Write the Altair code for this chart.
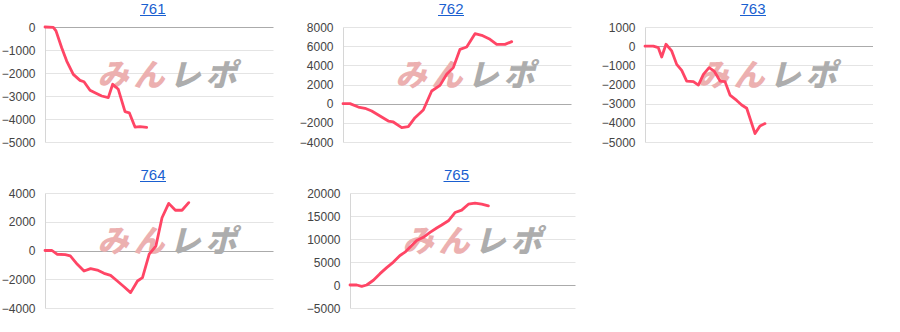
import altair as alt
import pandas as pd

# ---- data (games played vs. medal difference) ----
titles = ["761", "762", "763", "764", "765"]

g761 = [0, 364, 482, 732, 952, 1241, 1535, 1710, 1974, 2193, 2487, 2776, 2969, 3215, 3509, 3697, 3947, 4167, 4461]
v761 = [0, -20, -170, -900, -1480, -2060, -2320, -2380, -2750, -2860, -3000, -3070, -2490, -2710, -3680, -3730, -4350, -4330, -4360]

g762 = [0, 307, 671, 965, 1259, 1623, 1987, 2206, 2575, 2864, 3158, 3522, 3890, 4254, 4548, 4838, 5132, 5425, 5789, 6083, 6447, 6741, 7105, 7399]
v762 = [0, 0, -350, -480, -770, -1290, -1810, -1910, -2500, -2400, -1460, -660, 1320, 1910, 3060, 3760, 5670, 5910, 7300, 7130, 6710, 6190, 6190, 6470]

g763 = [0, 364, 583, 732, 921, 1171, 1390, 1610, 1829, 2123, 2342, 2561, 2811, 3031, 3294, 3509, 3728, 4022, 4241, 4461, 4825, 5044, 5263]
v763 = [0, 0, -80, -565, 100, -250, -950, -1260, -1820, -1850, -2030, -1470, -1120, -1300, -1820, -1850, -2550, -2830, -3070, -3240, -4560, -4160, -4040]

g764 = [0, 307, 526, 890, 1110, 1417, 1711, 2000, 2294, 2588, 2877, 3171, 3465, 3754, 4057, 4276, 4570, 4864, 5132, 5426, 5719, 6009, 6303]
v764 = [0, 0, -260, -290, -380, -960, -1430, -1260, -1360, -1590, -1730, -2120, -2520, -2930, -2120, -1890, -260, 310, 2280, 3280, 2800, 2800, 3330]

g765 = [0, 298, 520, 742, 1040, 1333, 1631, 1929, 2222, 2444, 2742, 2964, 3262, 3556, 3853, 4076, 4373, 4667, 4964, 5262, 5556, 5853, 6151]
v765 = [0, 0, -300, 0, 1030, 2470, 3770, 4980, 6420, 7130, 8580, 9650, 10370, 11440, 12390, 13040, 13960, 15750, 16270, 17560, 17780, 17560, 17200]

t761 = [-5000, -4000, -3000, -2000, -1000, 0]
t762 = [-4000, -2000, 0, 2000, 4000, 6000, 8000]
t763 = [-5000, -4000, -3000, -2000, -1000, 0, 1000]
t764 = [-4000, -2000, 0, 2000, 4000]
t765 = [-5000, 0, 5000, 10000, 15000, 20000]

x_max = [0, 10000]

logo_chars = ["み", "ん", "レ", "ポ"]
logo_colors = ["#ecb0b0", "#ecb0b0", "#adadad", "#adadad"]

LINE_COLOR = "#ff4565"
TITLE_COLOR = "#1a5fd0"
FONT = "Liberation Sans"


def panel(title, games, diffs, ticks, extent, width, height=115):
    df = pd.DataFrame({"g": games, "v": diffs})
    deco = pd.DataFrame({"label": [title]})
    ys = alt.Scale(domain=[ticks[0], ticks[-1]], nice=False, zero=False)
    xs = alt.Scale(domain=x_max, nice=False, zero=False)

    line = alt.Chart(df).mark_line(
        color=LINE_COLOR, strokeWidth=2.8, strokeJoin="round", strokeCap="round"
    ).encode(
        x=alt.X("g:Q", scale=xs, axis=None),
        y=alt.Y("v:Q", scale=ys, axis=alt.Axis(
            values=ticks, title=None, format="d", minExtent=extent, maxExtent=extent,
            labelPadding=10, ticks=False, domain=True, domainColor="#d6d6d6",
            grid=True,
            gridColor={"condition": {"test": "datum.value === 0", "value": "#ababab"},
                       "value": "#e4e4e4"},
            gridWidth=1, labelOverlap=False,
            labelColor="#444444", labelFontSize=12, labelFont=FONT,
        )),
    )

    logo_layers = []
    cx0 = 68
    for i, (ch, col) in enumerate(zip(logo_chars, logo_colors)):
        logo_layers.append(
            alt.Chart(deco).mark_text(
                text=ch, font="Noto Sans CJK JP", fontSize=31, fontWeight=900,
                fontStyle="italic", color=col, baseline="middle", align="center",
            ).encode(x=alt.value(cx0 + 36 * i), y=alt.value(50))
        )

    cx = width / 2 - 6
    ttl = alt.Chart(deco).mark_text(
        font=FONT, fontSize=15, color=TITLE_COLOR, baseline="alphabetic", align="center"
    ).encode(text="label:N", x=alt.value(cx), y=alt.value(-13))
    underline = alt.Chart(deco).mark_rule(color=TITLE_COLOR, strokeWidth=1).encode(
        x=alt.value(cx - 13), x2=alt.value(cx + 13), y=alt.value(-11.5)
    )

    return alt.layer(*logo_layers, line, ttl, underline).properties(
        width=width, height=height
    )


p1 = panel(titles[0], g761, v761, t761, 45, 228)
p2 = panel(titles[1], g762, v762, t762, 44, 228)
p3 = panel(titles[2], g763, v763, t763, 48, 228)
p4 = panel(titles[3], g764, v764, t764, 43, 228)
p5 = panel(titles[4], g765, v765, t765, 48, 225)

row1 = alt.hconcat(p1, p2, p3, spacing=26)
row2 = alt.hconcat(p4, p5, spacing=29)

chart = alt.vconcat(row1, row2, spacing=20).properties(
    padding={"left": 0, "top": 2, "right": 0, "bottom": 0},
    background="white",
).configure_view(stroke=None)

chart.save("out.html", embed_options={"renderer": "svg", "actions": False})
